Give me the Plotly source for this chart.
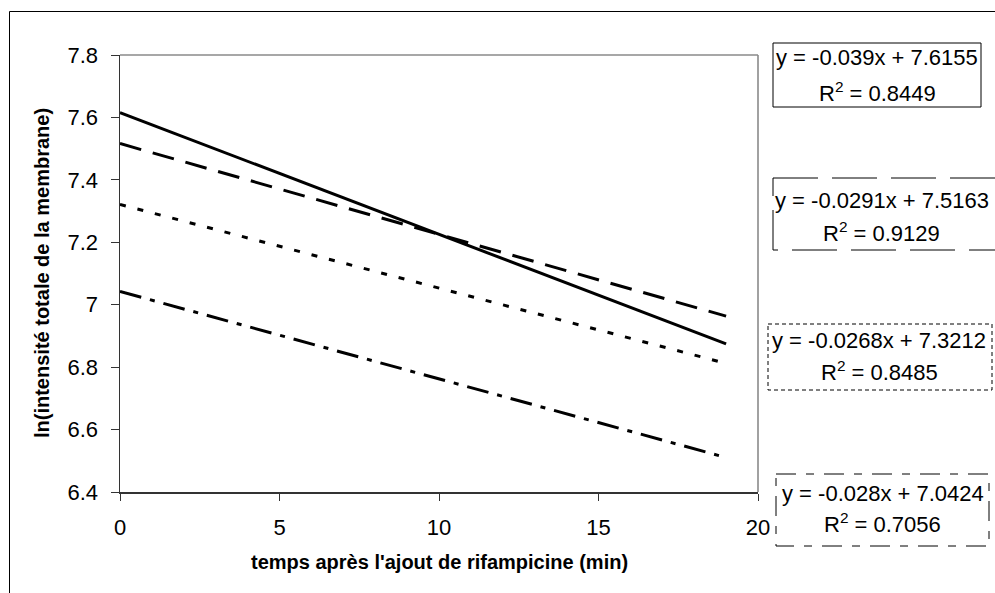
import plotly.graph_objects as go

# ---- data ----
x_time = [0, 19]
y_solid = [7.6155, 6.8745]
y_longdash = [7.5163, 6.9634]
y_dot = [7.3212, 6.8120]
y_dashdot = [7.0424, 6.5104]

eq_texts = ["y = -0.039x + 7.6155", "y = -0.0291x + 7.5163",
            "y = -0.0268x + 7.3212", "y = -0.028x + 7.0424"]
r2_texts = ["R<sup>2</sup> = 0.8449", "R<sup>2</sup> = 0.9129",
            "R<sup>2</sup> = 0.8485", "R<sup>2</sup> = 0.7056"]

x_ticks = [0, 5, 10, 15, 20]
y_ticks = [6.4, 6.6, 6.8, 7.0, 7.2, 7.4, 7.6, 7.8]
y_ticktext = ["6.4", "6.6", "6.8", "7", "7.2", "7.4", "7.6", "7.8"]

x_title = "temps après l'ajout de rifampicine (min)"
y_title = "ln(intensité totale de la membrane)"

# ---- layout geometry (pixels) ----
W, H = 995, 593
L, R, T, B = 120, 758, 55, 492


def px(p):
    return (p - L) / (R - L)


def py(p):
    return (B - p) / (B - T)


FONT = "Liberation Sans, Arial, sans-serif"

fig = go.Figure()
styles = [
    (y_solid, "solid"),
    (y_longdash, "22px,12px"),
    (y_dot, "6px,12px"),
    (y_dashdot, "22px,9px,5px,9px"),
]
for ys, dash in styles:
    fig.add_trace(go.Scatter(x=x_time, y=ys, mode="lines",
                             line=dict(color="black", width=3, dash=dash),
                             showlegend=False, hoverinfo="skip"))

shapes = []
# outer frame
shapes.append(dict(type="rect", xref="paper", yref="paper",
                   x0=px(9.5), x1=px(1010), y0=py(11.5), y1=py(610),
                   line=dict(color="black", width=1), layer="below"))
# plot-area top/right border (gray)
shapes.append(dict(type="line", xref="paper", yref="paper",
                   x0=0, x1=1, y0=1, y1=1, line=dict(color="#8a8a8a", width=1.6)))
shapes.append(dict(type="line", xref="paper", yref="paper",
                   x0=1, x1=1, y0=0, y1=1, line=dict(color="#8a8a8a", width=1.6)))

# equation boxes: (x0, y0, x1, y1, dash, line1_y, line2_y)
boxes = [
    (773, 43, 981, 107, "solid", 58, 92),
    (773, 178, 1005, 250, "45px,14px", 200, 232),
    (768, 324, 992, 390, "4px,3px", 340, 371),
    (776, 474, 989, 546, "20px,10px,8px,10px", 493, 523),
]
annotations = []
for i, (bx0, by0, bx1, by1, dash, l1, l2) in enumerate(boxes):
    shapes.append(dict(type="rect", xref="paper", yref="paper",
                       x0=px(bx0), x1=px(bx1), y0=py(by0), y1=py(by1),
                       line=dict(color="black", width=1, dash=dash)))
    cx = (bx0 + min(bx1, 990)) / 2
    annotations.append(dict(x=px(cx), y=py(l1), xref="paper", yref="paper",
                            text=eq_texts[i], showarrow=False,
                            font=dict(family=FONT, size=22, color="black"),
                            xanchor="center", yanchor="middle"))
    annotations.append(dict(x=px(cx), y=py(l2), xref="paper", yref="paper",
                            text=r2_texts[i], showarrow=False,
                            font=dict(family=FONT, size=22, color="black"),
                            xanchor="center", yanchor="middle"))

# axis titles
annotations.append(dict(x=px(440), y=py(562), xref="paper", yref="paper",
                        text="<b>" + x_title + "</b>", showarrow=False,
                        font=dict(family=FONT, size=20, color="black"),
                        xanchor="center", yanchor="middle"))
annotations.append(dict(x=px(42), y=py(273), xref="paper", yref="paper",
                        text="<b>" + y_title + "</b>", showarrow=False,
                        textangle=-90,
                        font=dict(family=FONT, size=20, color="black"),
                        xanchor="center", yanchor="middle"))

fig.update_layout(
    width=W, height=H,
    margin=dict(l=L, r=W - R, t=T, b=H - B, pad=0),
    paper_bgcolor="white", plot_bgcolor="white",
    font=dict(family=FONT, size=22, color="black"),
    shapes=shapes, annotations=annotations,
    xaxis=dict(range=[0, 20], tickvals=x_ticks, ticks="outside", ticklen=7,
               tickcolor="#333", showgrid=False, zeroline=False,
               showline=True, linecolor="#333", linewidth=1.5,
               tickfont=dict(size=22), ticklabelstandoff=8),
    yaxis=dict(range=[6.4, 7.8], tickvals=y_ticks, ticktext=y_ticktext,
               ticks="outside", ticklen=8, tickcolor="#333",
               showgrid=False, zeroline=False,
               showline=True, linecolor="#333", linewidth=1.5,
               tickfont=dict(size=22), ticklabelstandoff=8),
)

fig.write_html(
    "out.html",
    config={"displayModeBar": False, "staticPlot": True},
    post_script="document.body.style.margin='0px';document.body.style.overflow='hidden';",
)
